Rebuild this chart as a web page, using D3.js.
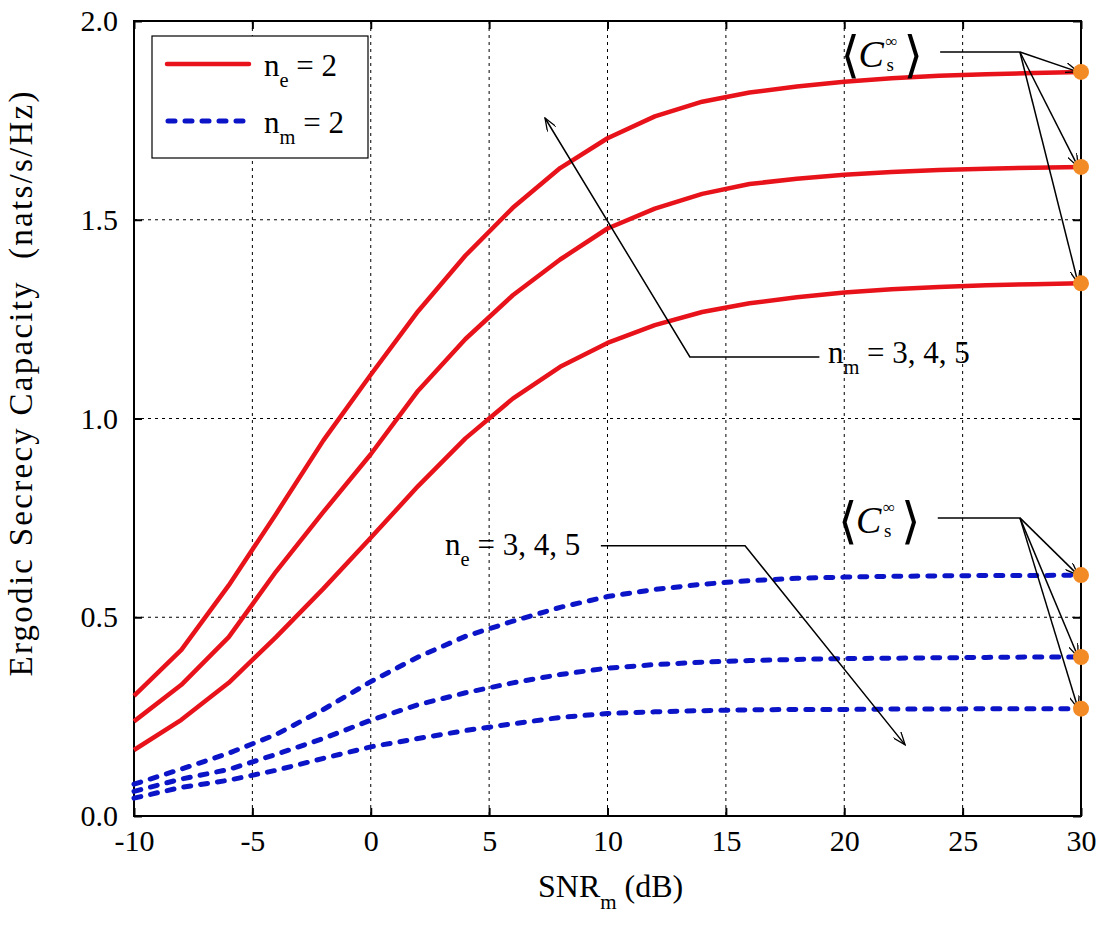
<!DOCTYPE html>
<html>
<head>
<meta charset="utf-8">
<script src="https://cdn.jsdelivr.net/npm/d3@7/dist/d3.min.js"></script>
<style>
  body { margin: 0; background: #fff; }
  text { font-family: "Liberation Serif", "DejaVu Serif", serif; fill: #000; }
</style>
</head>
<body>
<svg id="chart" width="1103" height="925"></svg>
<script>
// SNR_m grid (dB), one sample every 2 dB
const snr = [-10, -8, -6, -4, -2, 0, 2, 4, 6, 8, 10, 12, 14, 16, 18, 20, 22, 24, 26, 28, 30];

// n_e = 2, n_m = 3, 4, 5 (solid red)
const redNm3 = [0.166, 0.242, 0.335, 0.450, 0.572, 0.700, 0.830, 0.950, 1.050, 1.130, 1.190, 1.235, 1.268, 1.290, 1.305, 1.317, 1.325, 1.331, 1.335, 1.338, 1.340];
const redNm4 = [0.238, 0.330, 0.450, 0.615, 0.765, 0.910, 1.070, 1.200, 1.310, 1.400, 1.478, 1.528, 1.565, 1.590, 1.603, 1.613, 1.620, 1.625, 1.628, 1.631, 1.633];
const redNm5 = [0.302, 0.418, 0.580, 0.760, 0.945, 1.110, 1.270, 1.410, 1.530, 1.630, 1.705, 1.760, 1.797, 1.820, 1.835, 1.847, 1.856, 1.862, 1.866, 1.869, 1.872];

// n_m = 2, n_e = 3, 4, 5 (dashed blue)
const blueNe3 = [0.080, 0.118, 0.158, 0.205, 0.268, 0.338, 0.400, 0.452, 0.490, 0.525, 0.552, 0.570, 0.583, 0.592, 0.598, 0.601, 0.603, 0.604, 0.605, 0.605, 0.606];
const blueNe4 = [0.062, 0.093, 0.117, 0.155, 0.195, 0.241, 0.280, 0.310, 0.335, 0.356, 0.372, 0.381, 0.387, 0.391, 0.394, 0.396, 0.397, 0.398, 0.399, 0.400, 0.400];
const blueNe5 = [0.045, 0.072, 0.090, 0.115, 0.145, 0.174, 0.195, 0.215, 0.232, 0.248, 0.258, 0.262, 0.265, 0.267, 0.268, 0.268, 0.269, 0.269, 0.270, 0.270, 0.270];

const xTicks = [-10, -5, 0, 5, 10, 15, 20, 25, 30];
const yTicks = [0, 0.5, 1.0, 1.5, 2.0];

const svg = d3.select("#chart");
const margin = { top: 21, right: 22, bottom: 109, left: 134 };
const W = +svg.attr("width"), H = +svg.attr("height");
const width = W - margin.left - margin.right;
const height = H - margin.top - margin.bottom;

const x = d3.scaleLinear().domain([-10, 30]).range([0, width]);
const y = d3.scaleLinear().domain([0, 2]).range([height, 0]);

const defs = svg.append("defs");
defs.append("marker")
    .attr("id", "arrow")
    .attr("viewBox", "0 0 14 10")
    .attr("refX", 13).attr("refY", 5)
    .attr("markerWidth", 14).attr("markerHeight", 10)
    .attr("markerUnits", "userSpaceOnUse")
    .attr("orient", "auto")
  .append("path")
    .attr("d", "M0,0 L13,5 L0,10")
    .attr("fill", "none").attr("stroke", "#000").attr("stroke-width", 1.3);

const g = svg.append("g").attr("transform", `translate(${margin.left},${margin.top})`);

// grid
g.append("g").selectAll("line").data(xTicks.slice(1, -1)).join("line")
    .attr("x1", d => x(d)).attr("x2", d => x(d))
    .attr("y1", 0).attr("y2", height)
    .attr("stroke", "#000").attr("stroke-width", 1).attr("stroke-dasharray", "3,4");
g.append("g").selectAll("line").data(yTicks.slice(1, -1)).join("line")
    .attr("x1", 0).attr("x2", width)
    .attr("y1", d => y(d)).attr("y2", d => y(d))
    .attr("stroke", "#000").attr("stroke-width", 1).attr("stroke-dasharray", "3,4");

// axes, ticks pointing inward on all four sides
const fmtY = d3.format(".1f");
const axB = g.append("g").attr("transform", `translate(0,${height})`)
    .call(d3.axisBottom(x).tickValues(xTicks).tickFormat(d => String(d)).tickSize(-8).tickPadding(14));
const axL = g.append("g")
    .call(d3.axisLeft(y).tickValues(yTicks).tickFormat(fmtY).tickSize(-8).tickPadding(16));
const axT = g.append("g")
    .call(d3.axisTop(x).tickValues(xTicks).tickSize(-8).tickFormat(""));
const axR = g.append("g").attr("transform", `translate(${width},0)`)
    .call(d3.axisRight(y).tickValues(yTicks).tickSize(-8).tickFormat(""));
[axB, axL, axT, axR].forEach(a => {
  a.attr("font-family", null).attr("font-size", null);
  a.select(".domain").remove();
  a.selectAll(".tick line").attr("stroke", "#000").attr("stroke-width", 2);
  a.selectAll(".tick text").style("font-size", "30px").attr("fill", "#000");
});

g.append("rect").attr("width", width).attr("height", height)
    .attr("fill", "none").attr("stroke", "#000").attr("stroke-width", 2);

// curves
const line = d3.line().x((d, i) => x(snr[i])).y(d => y(d));
const redColor = "#e8121a", blueColor = "#0c14c8";
[redNm3, redNm4, redNm5].forEach(s => {
  g.append("path").datum(s).attr("d", line)
      .attr("fill", "none").attr("stroke", redColor).attr("stroke-width", 4.5)
      .attr("stroke-linejoin", "round");
});
[blueNe3, blueNe4, blueNe5].forEach(s => {
  g.append("path").datum(s).attr("d", line)
      .attr("fill", "none").attr("stroke", blueColor).attr("stroke-width", 5)
      .attr("stroke-dasharray", "7,10").attr("stroke-linecap", "round");
});

// annotations (data coordinates)
function arrowPath(pts) {
  return d3.line().x(p => x(p[0])).y(p => y(p[1]))(pts);
}
const ann = g.append("g").attr("fill", "none").attr("stroke", "#000").attr("stroke-width", 1.5);

const redEnds = [redNm5, redNm4, redNm3].map(s => s[s.length - 1]);
const blueEnds = [blueNe3, blueNe4, blueNe5].map(s => s[s.length - 1]);

ann.append("path").attr("d", arrowPath([[24.05, 1.922], [27.42, 1.922]]));
redEnds.forEach(v => ann.append("path").attr("d", arrowPath([[27.42, 1.922], [29.88, v]])).attr("marker-end", "url(#arrow)"));
ann.append("path").attr("d", arrowPath([[23.95, 0.75], [27.42, 0.75]]));
blueEnds.forEach(v => ann.append("path").attr("d", arrowPath([[27.42, 0.75], [29.88, v]])).attr("marker-end", "url(#arrow)"));

ann.append("path").attr("d", arrowPath([[18.95, 1.155], [13.48, 1.155], [7.36, 1.756]])).attr("marker-end", "url(#arrow)");
ann.append("path").attr("d", arrowPath([[9.72, 0.68], [15.81, 0.68], [22.57, 0.179]])).attr("marker-end", "url(#arrow)");

// end markers
g.append("g").selectAll("circle").data(redEnds.concat(blueEnds)).join("circle")
    .attr("cx", x(30)).attr("cy", d => y(d)).attr("r", 8).attr("fill", "#f28a26");

// label helper: main text with subscript
function subLabel(parent, px, py, main, sub, rest, size) {
  const t = parent.append("text").attr("x", px).attr("y", py).style("font-size", size + "px");
  t.append("tspan").text(main);
  t.append("tspan").attr("dy", size * 0.36).style("font-size", (size * 0.66) + "px").text(sub);
  t.append("tspan").attr("dy", -size * 0.36).text(rest);
  return t;
}
subLabel(g, x(19.31), y(1.14), "n", "m", " = 3, 4, 5", 31);
subLabel(g, x(3.14), y(0.657), "n", "e", " = 3, 4, 5", 31);

// <C_s^inf> label as one text, (px, py) = left edge / baseline of the C
function csLabel(px, py) {
  const t = g.append("text");
  t.append("tspan").attr("x", px - 18).attr("y", py + 5)
      .style("font-family", "DejaVu Sans").style("font-size", "50px").text("\u27E8");
  t.append("tspan").attr("x", px).attr("y", py)
      .style("font-style", "italic").style("font-size", "38px").text("C");
  t.append("tspan").attr("x", px + 27).attr("y", py - 20)
      .style("font-size", "17px").text("\u221E");
  t.append("tspan").attr("x", px + 28).attr("y", py + 4)
      .style("font-size", "19px").text("s");
  t.append("tspan").attr("x", px + 45).attr("y", py + 5)
      .style("font-family", "DejaVu Sans").style("font-size", "50px").text("\u27E9");
}
csLabel(x(20.6), y(1.885));
csLabel(x(20.5), y(0.712));

// legend
const lg = svg.append("g");
lg.append("rect").attr("x", 152).attr("y", 36).attr("width", 216).attr("height", 122)
    .attr("fill", "#fff").attr("stroke", "#000").attr("stroke-width", 1.2);
lg.append("line").attr("x1", 167).attr("x2", 249).attr("y1", 64).attr("y2", 64)
    .attr("stroke", redColor).attr("stroke-width", 4.5).attr("stroke-linecap", "round");
lg.append("line").attr("x1", 168).attr("x2", 250).attr("y1", 121).attr("y2", 121)
    .attr("stroke", blueColor).attr("stroke-width", 5).attr("stroke-dasharray", "7,10").attr("stroke-linecap", "round");
subLabel(lg, 264, 76, "n", "e", " = 2", 31);
subLabel(lg, 264, 133, "n", "m", " = 2", 31);

// axis titles
const xt = svg.append("text").attr("x", 538).attr("y", 897).style("font-size", "32px");
xt.append("tspan").text("SNR");
xt.append("tspan").attr("dy", 12).style("font-size", "21px").text("m");
xt.append("tspan").attr("dy", -12).text(" (dB)");

svg.append("text")
    .attr("transform", "translate(32,384) rotate(-90)")
    .attr("text-anchor", "middle")
    .attr("textLength", 585).attr("lengthAdjust", "spacing")
    .style("font-size", "33px")
    .text("Ergodic Secrecy Capacity\u00A0\u00A0(nats/s/Hz)");
</script>
</body>
</html>
